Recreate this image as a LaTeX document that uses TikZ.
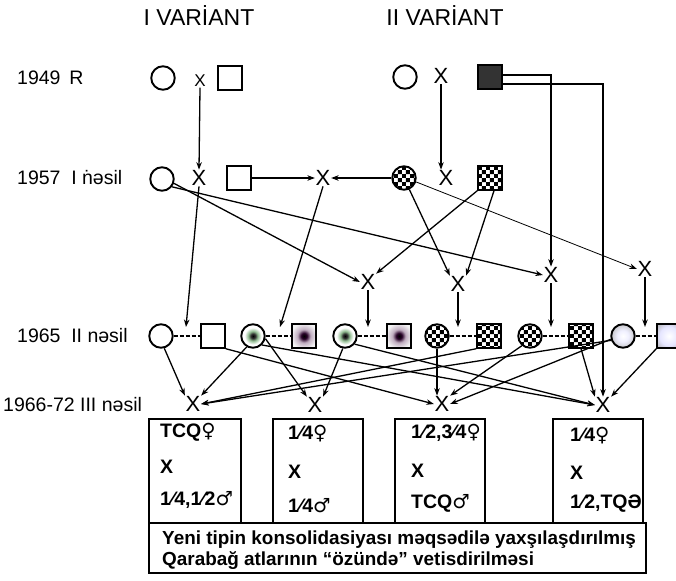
\documentclass[tikz,border=0pt]{standalone}
\usepackage{fontspec}
\setmainfont{Liberation Sans}
\newfontfamily\symf{DejaVu Sans}
\usetikzlibrary{arrows.meta,patterns}
\pgfdeclarepatternformonly{chk}{\pgfpointorigin}{\pgfqpoint{8.4pt}{8.4pt}}{\pgfqpoint{8.4pt}{8.4pt}}{%
  \pgfpathrectangle{\pgfpointorigin}{\pgfqpoint{4.2pt}{4.2pt}}%
  \pgfpathrectangle{\pgfqpoint{4.2pt}{4.2pt}}{\pgfqpoint{4.2pt}{4.2pt}}%
  \pgfusepath{fill}}
\pgfdeclareradialshading{dotsh}{\pgfpoint{0bp}{0bp}}{color(0bp)=(black); color(5bp)=(black!80); color(10bp)=(green!25!gray!70); color(18bp)=(white); color(50bp)=(white)}
\pgfdeclareradialshading{xsqsh}{\pgfpoint{0bp}{0bp}}{color(0bp)=(black); color(6bp)=(black!70!violet); color(14bp)=(violet!30!gray!50); color(28bp)=(white!92!gray); color(50bp)=(gray!20)}
\pgfdeclareradialshading{ballsh}{\pgfpoint{0bp}{0bp}}{color(0bp)=(white); color(12bp)=(blue!6!white); color(30bp)=(gray!55); color(42bp)=(gray!90!black); color(50bp)=(black!70)}
\pgfdeclareradialshading{gsqsh}{\pgfpoint{0bp}{0bp}}{color(0bp)=(white); color(20bp)=(blue!10!white); color(38bp)=(gray!65); color(50bp)=(gray)}
\begin{document}
\begin{tikzpicture}[x=1pt,y=-1pt,
  lab/.style={anchor=west,font=\fontsize{19.5}{21}\selectfont,inner sep=0},
  ttl/.style={font=\fontsize{23}{25}\selectfont,inner sep=0},
  cross/.style={font=\fontsize{22}{24}\selectfont,inner sep=0.6pt},
  smallcross/.style={font=\fontsize{17}{19}\selectfont,inner sep=0.6pt},
  fem/.style={circle,draw,line width=1.9pt,minimum size=23.5pt,inner sep=0},
  mal/.style={rectangle,draw,line width=1.9pt,minimum size=23.5pt,inner sep=0},
  chkfill/.style={pattern=chk},
  arr/.style={line width=1.3pt,-{Stealth[length=7.5pt,width=5.5pt]}},
  thinarr/.style={line width=0.8pt,-{Stealth[length=7.5pt,width=5.5pt]}},
  pairline/.style={line width=1.5pt,dash pattern=on 4pt off 2pt},
  boxst/.style={draw,line width=1.9pt,inner sep=0},
  bt/.style={anchor=west,font=\fontsize{19.5}{21}\selectfont\bfseries,inner sep=0},
  bigt/.style={anchor=west,font=\fontsize{18.9}{21}\selectfont\bfseries,inner sep=0}
]
\useasboundingbox (0,0) rectangle (676,580);
\fill[white] (0,0) rectangle (676,580);

% titles
\node[ttl] (t1) at (199,16) {I VARİANT};
\node[ttl] (t2) at (445,16) {II VARİANT};

% row labels
\node[lab] (l1) at (17,78) {1949\hspace{0.45em}R};
\node[lab] (l2) at (17,178) {1957\hspace{0.55em}I {\accent"02D9 n}əsil};
\node[lab] (l3) at (17,336) {1965\hspace{0.55em}II nəsil};
\node[lab] (l4) at (3,405) {1966-72 III nəsil};

% 1949
\node[fem] (c0a) at (163,78) {};
\node[smallcross] (x0a) at (200,81) {X};
\node[mal] (s0a) at (230,78) {};
\node[fem] (c0b) at (405,77) {};
\node[cross] (x0b) at (441,76) {X};
\node[mal,fill=black!80] (s0b) at (490,77) {};

% 1957
\node[fem] (c1a) at (162,179) {};
\node[cross] (x1a) at (199,178) {X};
\node[mal] (s1a) at (239,178) {};
\node[cross] (x1m) at (323,178) {X};
\node[fem,chkfill] (c1b) at (404,178) {};
\node[cross] (x1b) at (446,178) {X};
\node[mal,chkfill] (s1b) at (490,178) {};

% intermediate crosses
\node[cross] (xm1) at (368,282) {X};
\node[cross] (xm2) at (458,284) {X};
\node[cross] (xm3) at (551,275) {X};
\node[cross] (xm4) at (645,269) {X};

% 1965
\node[fem] (c21) at (161,336) {};
\node[mal] (s21) at (213,336) {};
\node[fem,shading=dotsh] (c22) at (253,336) {};
\node[mal,shading=xsqsh] (s22) at (304,336) {};
\node[fem,shading=dotsh] (c23) at (345,336) {};
\node[mal,shading=xsqsh] (s23) at (399,336) {};
\node[fem,chkfill] (c24) at (437,336) {};
\node[mal,chkfill] (s24) at (489,336) {};
\node[fem,chkfill] (c25) at (530,336) {};
\node[mal,chkfill] (s25) at (581,336) {};
\node[fem,shading=ballsh] (c26) at (623,336) {};
\node[mal,shading=gsqsh] (s26) at (669,336) {};

\draw[pairline] (c21) -- (s21);
\draw[pairline] (c22) -- (s22);
\draw[pairline] (c23) -- (s23);
\draw[pairline] (c24) -- (s24);
\draw[pairline] (c25) -- (s25);
\draw[pairline] (c26) -- (s26);

\coordinate (dt1) at (186,327);
\coordinate (dt2) at (280,327);
\coordinate (dt3) at (368,327);
\coordinate (dt4) at (458,327);
\coordinate (dt5) at (551,327);
\coordinate (dt6) at (645,327);

% 1966-72
\node[cross] (xb1) at (193,404) {X};
\node[cross] (xb2) at (315,405) {X};
\node[cross] (xb3) at (442,404) {X};
\node[cross] (xb4) at (603,405) {X};

% connectors 1949 -> 1957
\draw[arr] (x0a.south) -- (x1a.north);
\draw[arr] (x0b.south) -- (x0b.south |- x1b.north);
\draw[arr] ([yshift=2pt]s0b.east) -| (xm3.north);
\draw[arr] ([yshift=-7pt]s0b.east) -| (xb4.north);

% 1957
\draw[arr] (s1a.east) -- (x1m.west);
\draw[arr] (c1b.west) -- (x1m.east);
\draw[arr] (c1a.-20) -- (xm1.west);
\draw[arr] (c1a.-38) -- (xm3.west);
\draw[arr] (c1b.-65) -- (xm2.north west);
\draw[thinarr] (c1b.-18) -- (xm4.west);
\draw[arr] (s1b.south west) -- (xm1.north east);
\draw[arr] ([xshift=4pt]s1b.south) -- (xm2.north east);

% 1957 -> 1965
\draw[arr] (x1a.south) -- (dt1);
\draw[arr] (x1m.south) -- (dt2);
\draw[arr] (xm1.south) -- (dt3);
\draw[arr] (xm2.south) -- (dt4);
\draw[arr] (xm3.south) -- (dt5);
\draw[arr] (xm4.south) -- (dt6);

% 1965 -> 1966-72
\draw[arr] (c21.-75) -- (xb1.north west);
\draw[arr] (c22.-120) -- (xb1.north east);
\draw[arr] (s24.south west) -- (xb1.east);
\draw[arr] (c26.-160) -- (xb1.east);
\draw[arr] (s21.south east) -- (xb3.west);
\draw[arr] (c22.-12) -- (xb2.north west);
\draw[arr] (c22.-45) -- (xb4.west);
\draw[arr] (c23.-100) -- (xb2.north east);
\draw[arr] (c23.-40) -- (xb4.west);
\draw[arr] (c24.south) -- (c24.south |- xb3.north);
\draw[arr] (c25.-130) -- (xb3.north east);
\draw[arr] (c26.-165) -- (xb3.east);
\draw[arr] (s25.south) -- (xb4.north west);
\draw[arr] (s26.south west) -- (xb4.north east);

% boxes
\node[boxst,minimum width=92pt,minimum height=104pt] (b1) at (195,471) {};
\node[boxst,minimum width=90pt,minimum height=104pt] (b2) at (318,471) {};
\node[boxst,minimum width=90pt,minimum height=104pt] (b3) at (440,471) {};
\node[boxst,minimum width=90pt,minimum height=104pt] (b4) at (598,471) {};
\node[boxst,minimum width=497pt,minimum height=50pt] (bb) at (397.5,548) {};

\node[bt] (b1a) at (160,432) {TCQ{\symf\mdseries ♀}};
\node[bt] (b1b) at (160,467) {X};
\node[bt] (b1c) at (160,500) {1⁄4,1⁄2{\symf\mdseries ♂}};
\node[bt] (b2a) at (288,434) {1⁄4{\symf\mdseries ♀}};
\node[bt] (b2b) at (288,472) {X};
\node[bt] (b2c) at (288,506) {1⁄4{\symf\mdseries ♂}};
\node[bt] (b3a) at (411,433) {1⁄2,3⁄4{\symf\mdseries ♀}};
\node[bt] (b3b) at (411,471) {X};
\node[bt] (b3c) at (411,503) {TCQ{\symf\mdseries ♂}};
\node[bt] (b4a) at (570,436) {1⁄4{\symf\mdseries ♀}};
\node[bt] (b4b) at (570,473) {X};
\node[bt] (b4c) at (570,504) {1⁄2,TQƏ};

\node[bigt] (bt1) at (162,540) {Yeni tipin konsolidasiyası məqsədilə yaxşılaşdırılmış};
\node[bigt] (bt2) at (162,561) {Qarabağ atlarının “özündə” vetisdirilməsi};
\end{tikzpicture}
\end{document}
